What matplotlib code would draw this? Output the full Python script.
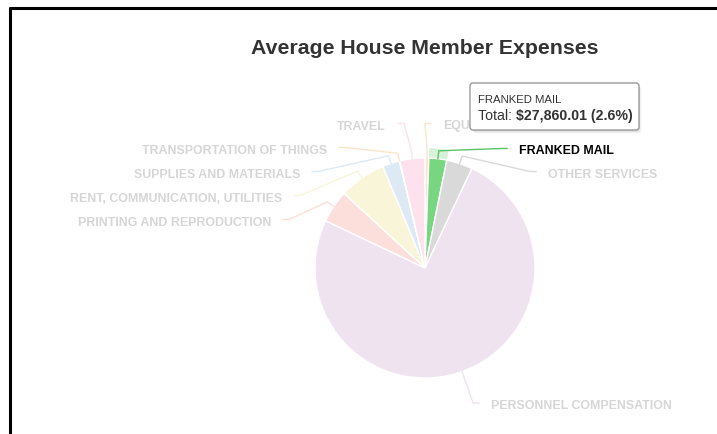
import matplotlib
matplotlib.use("Agg")
import matplotlib.pyplot as plt
import numpy as np
from matplotlib.patches import Wedge, FancyBboxPatch

plt.rcParams["font.family"] = ["Liberation Sans", "DejaVu Sans"]

# --- data (alphabetical, drawn clockwise from 12 o'clock like the original)
categories = ["EQUIPMENT", "FRANKED MAIL", "OTHER SERVICES", "PERSONNEL COMPENSATION",
              "PRINTING AND REPRODUCTION", "RENT, COMMUNICATION, UTILITIES",
              "SUPPLIES AND MATERIALS", "TRANSPORTATION OF THINGS", "TRAVEL"]
totals = [6000.0, 27860.01, 41000.0, 800000.0, 51000.0, 73500.0, 26800.0, 900.0, 39000.0]
colors = ["#fde4cc", "#77d67f", "#d9d9d9", "#efe3f0", "#fcdedb",
          "#f9f5d9", "#dde9f5", "#fbe6cc", "#fde1ec"]
hovered = "FRANKED MAIL"

# --- layout (image pixels, y measured from the top)
W, H = 717, 434
CX, CY, R = 425, 268, 110
label_pos = {
    "EQUIPMENT": (443, 125, "left"),
    "FRANKED MAIL": (519, 150, "left"),
    "OTHER SERVICES": (548, 173, "left"),
    "PERSONNEL COMPENSATION": (491, 404.5, "left"),
    "PRINTING AND REPRODUCTION": (271, 221, "right"),
    "RENT, COMMUNICATION, UTILITIES": (282, 197, "right"),
    "SUPPLIES AND MATERIALS": (300, 173, "right"),
    "TRANSPORTATION OF THINGS": (327, 149, "right"),
    "TRAVEL": (386, 125, "right"),
}


def Y(y):
    return H - y


fig = plt.figure(figsize=(W / 100, H / 100), dpi=100)
ax = fig.add_axes([0, 0, 1, 1])

wedges, _ = ax.pie(totals, colors=colors, startangle=90, counterclock=False,
                   center=(CX, Y(CY)), radius=R, frame=True,
                   wedgeprops=dict(edgecolor="white", linewidth=1))
ax.set_xlim(0, W); ax.set_ylim(0, H); ax.set_aspect("equal")
ax.axis("off")

for w, name, col in zip(wedges, categories, colors):
    th = np.deg2rad((w.theta1 + w.theta2) / 2)
    d = np.array([np.cos(th), np.sin(th)])
    touch = np.array([CX, Y(CY)]) + R * d
    brk = np.array([CX, Y(CY)]) + (R + 8) * d
    lx, ly, ha = label_pos[name]
    sgn = 1 if ha == "left" else -1
    ax_ = lx - sgn * 12
    elbow = ax_ - sgn * 6
    is_hov = name == hovered
    lcol = "#5cc466" if is_hov else col
    ax.plot([ax_, elbow, brk[0], touch[0]], [Y(ly) + 1.5, Y(ly) + 1.5, brk[1], touch[1]],
            color=lcol, lw=1, zorder=1)
    ax.text(lx, Y(ly + 1.5), name, ha=ha, va="center", fontsize=8.9, fontweight="bold",
            color="#000000" if is_hov else "#d6d6d6", zorder=2)
    if is_hov:
        ax.add_patch(Wedge((CX, Y(CY)), R + 10, w.theta1, w.theta2, width=10,
                           facecolor=col, alpha=0.3, edgecolor="none", zorder=0.5))

# title
ax.text(CX, Y(48), "Average House Member Expenses", ha="center", va="center",
        fontsize=15.3, fontweight="bold", color="#333333")

# tooltip for the hovered point
i = categories.index(hovered)
pct = 100 * totals[i] / sum(totals)
for k, a in enumerate([0.06, 0.04, 0.02]):
    ax.add_patch(FancyBboxPatch((471 + k + 1, Y(131) - k - 1), 168, 47,
                                boxstyle="round,pad=0,rounding_size=3",
                                facecolor="black", alpha=a, edgecolor="none", zorder=5))
ax.add_patch(FancyBboxPatch((470, Y(130)), 169, 47, boxstyle="round,pad=0,rounding_size=3",
                            facecolor="white", edgecolor="#9a9a9a", lw=1, zorder=6))
ax.text(478, Y(100), hovered, fontsize=8.2, color="#333333", va="center", zorder=7)
t1 = ax.text(478, Y(116), "Total: ", fontsize=10.2, color="#333333", va="center", zorder=7)
ax.annotate(f"\\${totals[i]:,.2f} ({pct:.1f}%)", xy=(1, 0.5), xycoords=t1, va="center",
            fontsize=10.2, fontweight="bold", color="#333333", zorder=7)

# screenshot frame lines
ax.plot([10, 10], [Y(7), 0], color="black", lw=2.2, solid_capstyle="butt", clip_on=False)
ax.plot([9, W], [Y(7.5), Y(7.5)], color="black", lw=2.2, solid_capstyle="butt", clip_on=False)

fig.savefig("out.png", dpi=100)
